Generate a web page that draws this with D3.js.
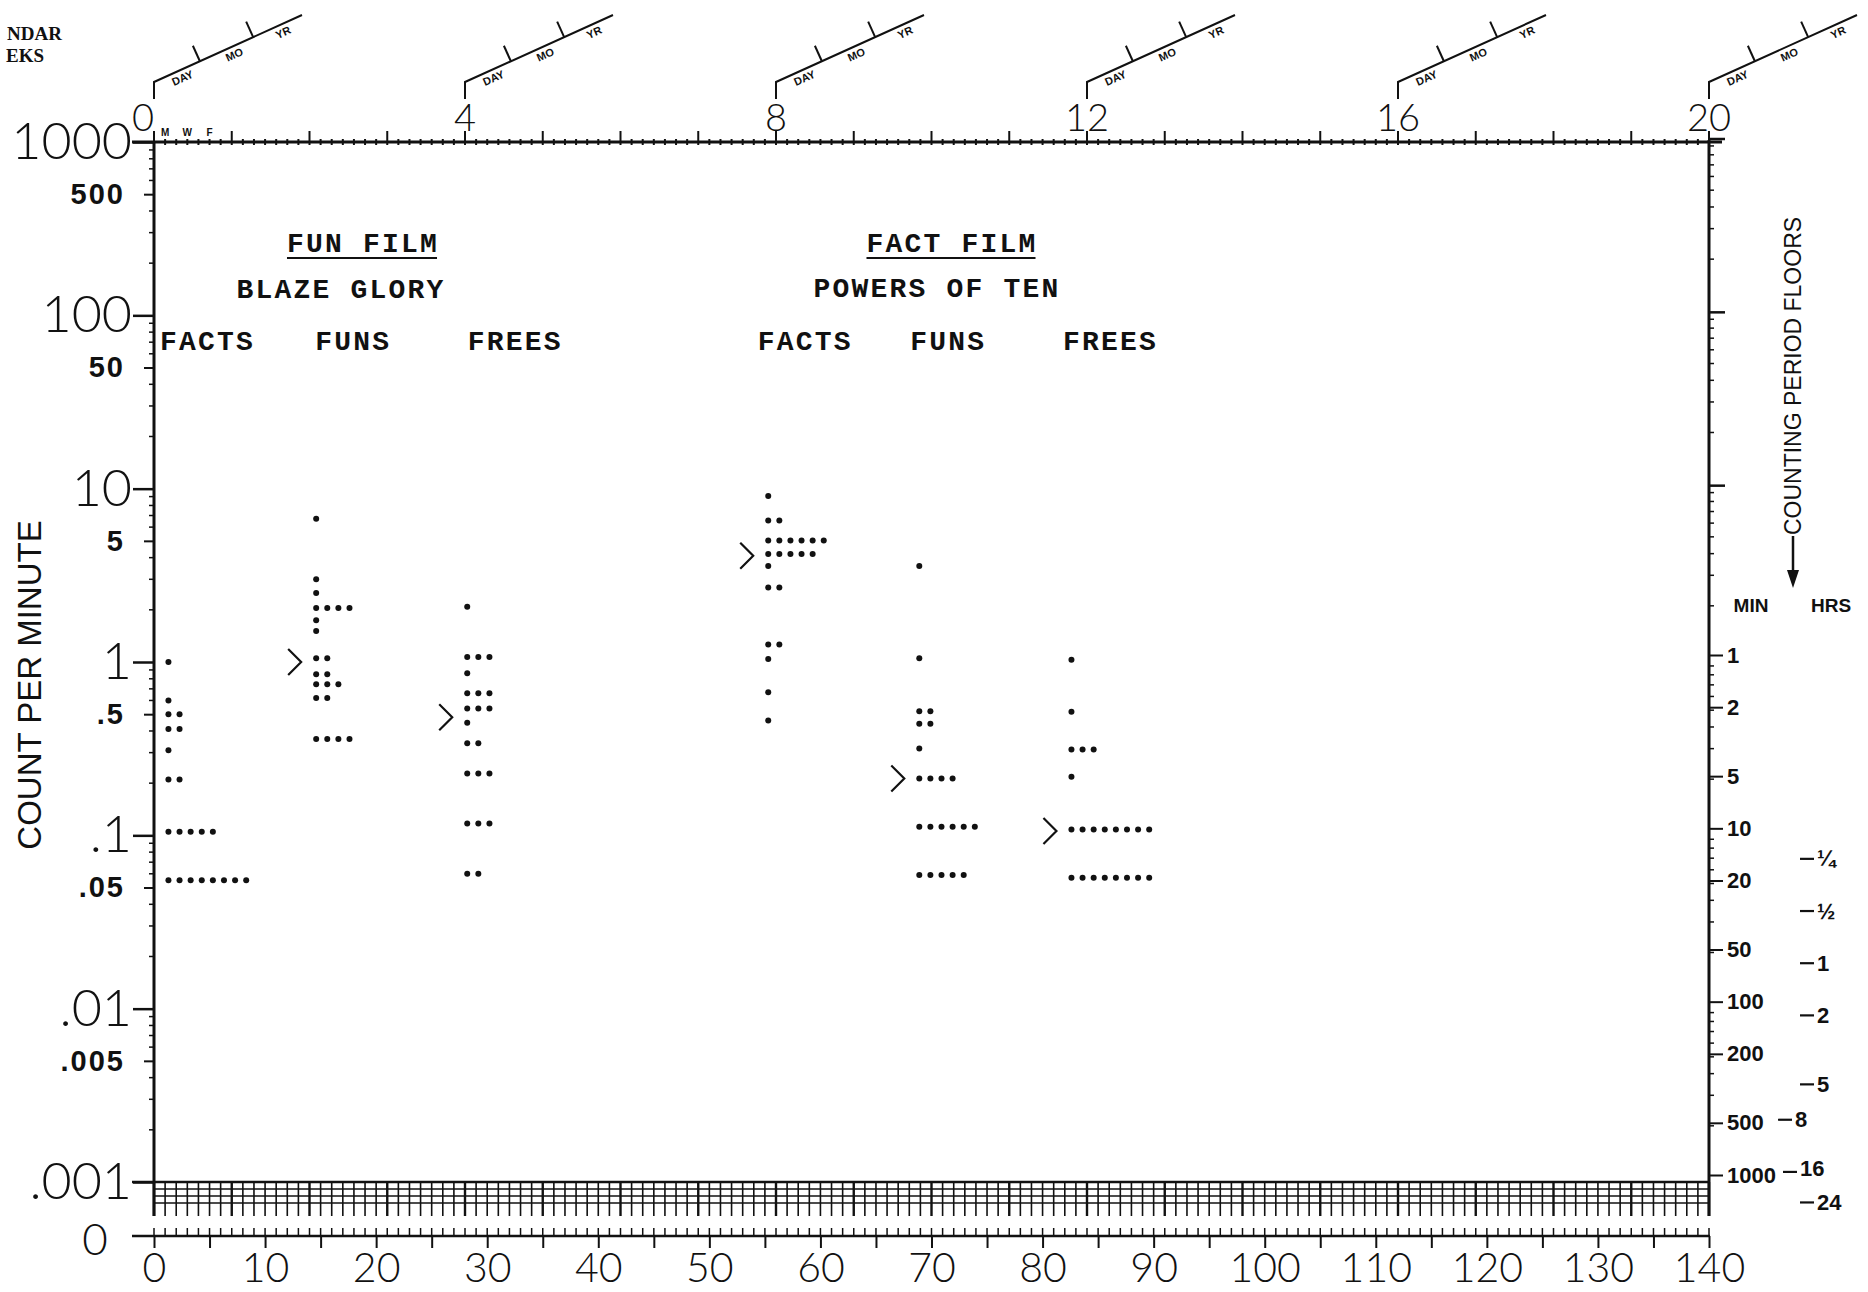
<!DOCTYPE html>
<html><head><meta charset="utf-8">
<script src="https://cdn.jsdelivr.net/npm/d3@7"></script>
<style>
html,body{margin:0;padding:0;background:#fff;}
svg{display:block;}
</style></head><body>
<svg id="chart" width="1868" height="1292"></svg>
<script>
// ---------------- DATA ----------------
const weekTicks = [0, 4, 8, 12, 16, 20];
const dayTicks = [0, 10, 20, 30, 40, 50, 60, 70, 80, 90, 100, 110, 120, 130, 140];
const countMajor = [1000, 100, 10, 1, 0.1, 0.01, 0.001];
const countHalf = [500, 50, 5, 0.5, 0.05, 0.005];
const floorMinutes = [1, 2, 5, 10, 20, 50, 100, 200, 500, 1000];
const floorHours = [0.25, 0.5, 1, 2, 5, 8, 16, 24];
const floorHourLabels = ["¼", "½", "1", "2", "5", "8", "16", "24"];
const weekdayLetters = ["M", "W", "F"];
const weekdayDays = [1, 3, 5];
const celerationWords = ["DAY", "MO", "YR"];
const cornerLabels = ["NDAR", "EKS"];   // visible part of "CALENDAR WEEKS", cut by the page edge

const filmTitles = ["FUN FILM", "FACT FILM"];
const filmNames = ["BLAZE GLORY", "POWERS OF TEN"];
const groupLabels = ["FACTS", "FUNS", "FREES", "FACTS", "FUNS", "FREES"];
const groupStartDay = [1.3, 14.6, 28.2, 55.3, 68.9, 82.6];
const groupMedian = [null, 1.0, 0.48, 4.1, 0.213, 0.106];

// [count per minute, number of dots at that rate]
const blazeFacts = [[1.0,1],[0.6,1],[0.5,2],[0.41,2],[0.31,1],[0.21,2],[0.105,5],[0.055,8]];
const blazeFuns  = [[6.7,1],[3.0,1],[2.5,1],[2.05,4],[1.74,1],[1.51,1],[1.05,2],[0.85,2],[0.745,3],[0.62,2],[0.36,4]];
const blazeFrees = [[2.08,1],[1.07,3],[0.86,1],[0.66,3],[0.54,3],[0.446,1],[0.34,2],[0.227,3],[0.117,3],[0.06,2]];
const powersFacts = [[9.06,1],[6.56,2],[5.03,6],[4.2,5],[3.58,1],[2.69,2],[1.26,2],[1.04,1],[0.67,1],[0.46,1]];
const powersFuns  = [[3.58,1],[1.05,1],[0.52,2],[0.44,2],[0.317,1],[0.213,4],[0.112,6],[0.059,5]];
const powersFrees = [[1.03,1],[0.516,1],[0.313,3],[0.218,1],[0.108,8],[0.057,8]];
const groupRows = [blazeFacts, blazeFuns, blazeFrees, powersFacts, powersFuns, powersFrees];

// ---------------- CHART ----------------
const ink = "#111";
const svg = d3.select("#chart");
svg.append("rect").attr("width",1868).attr("height",1292).attr("fill","#fff");

const x = d3.scaleLinear().domain([0, 140]).range([154, 1709]);
const y = d3.scaleLog().domain([0.001, 1000]).range([1182, 142]);
const thin = "Lato";
const fmt = v => v >= 1 ? String(v) : String(v).replace(/^0\./, ".");

const X0 = x(0), X1 = x(140), YTOP = y(1000), YBOT = y(0.001);
const gridBottom = YBOT + 34, zeroY = YBOT + 54;

// frame lines
svg.append("line").attr("x1",X0).attr("x2",X0).attr("y1",YTOP).attr("y2",gridBottom).attr("stroke",ink).attr("stroke-width",3);
svg.append("line").attr("x1",X1).attr("x2",X1).attr("y1",YTOP-2).attr("y2",gridBottom).attr("stroke",ink).attr("stroke-width",3);
svg.append("line").attr("x1",X0-22).attr("x2",X1+13).attr("y1",YTOP).attr("y2",YTOP).attr("stroke",ink).attr("stroke-width",3);
svg.append("line").attr("x1",X0-22).attr("x2",X1).attr("y1",YBOT).attr("y2",YBOT).attr("stroke",ink).attr("stroke-width",2.5);

// left axis majors
const gL = svg.append("g").attr("transform",`translate(${X0},0)`)
  .call(d3.axisLeft(y).tickValues(countMajor).tickSize(21).tickPadding(1).tickFormat(fmt));
gL.select(".domain").remove();
gL.selectAll("line").attr("stroke",ink).attr("stroke-width",2.5);
gL.selectAll("text").attr("font-family",thin).attr("font-weight",300).attr("font-size",52).attr("fill",ink);

// left axis halves
const gL5 = svg.append("g").attr("transform",`translate(${X0},0)`)
  .call(d3.axisLeft(y).tickValues(countHalf).tickSize(10).tickPadding(19).tickFormat(fmt));
gL5.select(".domain").remove();
gL5.selectAll("line").attr("stroke",ink).attr("stroke-width",2);
gL5.selectAll("text").attr("font-family","Liberation Sans").attr("font-weight",700).attr("font-size",29)
  .attr("letter-spacing",2).attr("fill",ink);

// minor ticks both sides
const minors = [];
for (let d = -3; d <= 2; d++) for (let m = 2; m <= 9; m++) if (m !== 5) minors.push(m * Math.pow(10, d));
svg.append("g").selectAll("line").data(minors).join("line")
  .attr("x1",X0-5).attr("x2",X0).attr("y1",d=>y(d)).attr("y2",d=>y(d)).attr("stroke",ink).attr("stroke-width",1.5);
svg.append("g").selectAll("line").data(minors.concat(countHalf)).join("line")
  .attr("x1",X1).attr("x2",X1+5).attr("y1",d=>y(d)-4).attr("y2",d=>y(d)-4).attr("stroke",ink).attr("stroke-width",1.5);
// right axis major ticks (upper part)
svg.append("g").selectAll("line").data([1000,100,10]).join("line")
  .attr("x1",X1).attr("x2",X1+16).attr("y1",d=>y(d)-3).attr("y2",d=>y(d)-3).attr("stroke",ink).attr("stroke-width",2.5);

// "0" label on left for zero line
svg.append("text").attr("x",95).attr("y",zeroY+8).attr("text-anchor","middle").attr("dominant-baseline","middle")
  .attr("font-family",thin).attr("font-weight",300).attr("font-size",44).attr("fill",ink).text("0");

// Count per minute title
svg.append("text").attr("transform","translate(41,685) rotate(-90)").attr("text-anchor","middle")
  .attr("font-family","Liberation Sans").attr("font-size",33).attr("fill",ink).text("COUNT PER MINUTE");

// bottom grid
const days = d3.range(0, 141);
svg.append("g").selectAll("line").data(days).join("line")
  .attr("x1",d=>x(d)).attr("x2",d=>x(d)).attr("y1",YBOT).attr("y2",gridBottom)
  .attr("stroke",ink).attr("stroke-width",d=>d%7===0?2.4:1.6);
[7,14,21].forEach(o => svg.append("line").attr("x1",X0).attr("x2",X1).attr("y1",YBOT+o).attr("y2",YBOT+o)
  .attr("stroke",ink).attr("stroke-width",1.4));

// zero line with day ticks
svg.append("line").attr("x1",X0-22).attr("x2",X1+1).attr("y1",zeroY).attr("y2",zeroY).attr("stroke",ink).attr("stroke-width",2.5);
svg.append("g").selectAll("line").data(days).join("line")
  .attr("x1",d=>x(d)).attr("x2",d=>x(d)).attr("y1",zeroY-8).attr("y2",zeroY)
  .attr("stroke",ink).attr("stroke-width",1.5);
const gB = svg.append("g").attr("transform",`translate(0,${zeroY})`)
  .call(d3.axisBottom(x).tickValues(d3.range(0,141,5)).tickSize(12).tickPadding(5).tickFormat(d => dayTicks.includes(d) ? d : ""));
gB.select(".domain").remove();
gB.selectAll("line").attr("stroke",ink).attr("stroke-width",2);
gB.selectAll("text").attr("font-family",thin).attr("font-weight",300).attr("font-size",41).attr("fill",ink);

// top calendar ticks
svg.append("g").selectAll("line").data(days).join("line")
  .attr("x1",d=>x(d)).attr("x2",d=>x(d))
  .attr("y1",d=>d%7===0?YTOP-11:YTOP-3).attr("y2",YTOP+3)
  .attr("stroke",ink).attr("stroke-width",2);
svg.append("g").selectAll("text").data(weekdayDays).join("text")
  .attr("x",d=>x(d)).attr("y",YTOP-6).attr("text-anchor","middle")
  .attr("font-family","Liberation Sans").attr("font-weight",700).attr("font-size",10).attr("fill",ink)
  .text((d,i)=>weekdayLetters[i]);

// week labels and celeration glyphs
const ang = Math.atan2(-67, 148) * 180 / Math.PI;
weekTicks.forEach((w, i) => {
  const x0 = x(w * 7);
  svg.append("text").attr("x", x0 + (i === 0 ? -11 : 0)).attr("y", 131).attr("text-anchor","middle")
    .attr("font-family",thin).attr("font-weight",300).attr("font-size",38).attr("fill",ink).text(w);
  const g = svg.append("g");
  g.append("path").attr("d",`M${x0},99 L${x0},82 L${x0+148},15`).attr("fill","none").attr("stroke",ink).attr("stroke-width",2);
  [0.31, 0.67].forEach(t => {
    const px = x0 + 148*t, py = 82 - 67*t;
    g.append("line").attr("x1",px).attr("y1",py).attr("x2",px-7).attr("y2",py-15.5).attr("stroke",ink).attr("stroke-width",2);
  });
  [0.17, 0.52, 0.85].forEach((t, k) => {
    const px = x0 + 148*t, py = 82 - 67*t;
    g.append("text").attr("transform",`translate(${px},${py}) rotate(${ang})`).attr("x",0).attr("y",12)
      .attr("text-anchor","middle").attr("font-family","Liberation Sans").attr("font-weight",700)
      .attr("font-size",11).attr("fill",ink).text(celerationWords[k]);
  });
});

// corner label (visible part of the cut-off "CALENDAR WEEKS")
svg.append("text").attr("x",62).attr("y",40).attr("text-anchor","end").attr("font-family","Liberation Serif")
  .attr("font-weight",700).attr("font-size",19).attr("fill",ink).text(cornerLabels[0]);
svg.append("text").attr("x",44).attr("y",62).attr("text-anchor","end").attr("font-family","Liberation Serif")
  .attr("font-weight",700).attr("font-size",19).attr("fill",ink).text(cornerLabels[1]);

// right axis: counting period floors
const yOff = -7;
const gR = svg.append("g").attr("transform",`translate(${X1},${yOff})`)
  .call(d3.axisRight(y).tickValues(floorMinutes.map(m => 1/m)).tickSize(14).tickPadding(4).tickFormat((d,i)=>floorMinutes[i]));
gR.select(".domain").remove();
gR.selectAll("line").attr("stroke",ink).attr("stroke-width",2);
gR.selectAll("text").attr("font-family","Liberation Sans").attr("font-weight",700).attr("font-size",22).attr("fill",ink);

const gH = svg.append("g");
floorHours.forEach((h, i) => {
  const yy = y(1/(h*60)) + yOff;
  const dx = h === 16 ? -17 : (h === 8 ? -22 : 0);
  const dy = h === 16 ? -3 : 0;
  gH.append("line").attr("x1",1800+dx).attr("x2",1814+dx).attr("y1",yy).attr("y2",yy).attr("stroke",ink).attr("stroke-width",2.2);
  gH.append("text").attr("x",1817+dx).attr("y",yy+dy).attr("dominant-baseline","central")
    .attr("font-family","Liberation Sans").attr("font-weight",700).attr("font-size",22).attr("fill",ink).text(floorHourLabels[i]);
});
svg.append("text").attr("x",1751).attr("y",612).attr("text-anchor","middle").attr("font-family","Liberation Sans")
  .attr("font-weight",700).attr("font-size",19).attr("fill",ink).text("MIN");
svg.append("text").attr("x",1831).attr("y",612).attr("text-anchor","middle").attr("font-family","Liberation Sans")
  .attr("font-weight",700).attr("font-size",19).attr("fill",ink).text("HRS");
svg.append("text").attr("transform","translate(1801,376) rotate(-90)").attr("text-anchor","middle")
  .attr("font-family","Liberation Sans").attr("font-size",23).attr("fill",ink).text("COUNTING PERIOD FLOORS");
svg.append("line").attr("x1",1793).attr("x2",1793).attr("y1",536).attr("y2",575).attr("stroke",ink).attr("stroke-width",2.5);
svg.append("path").attr("d","M1787,570 L1799,570 L1793,588 Z").attr("fill",ink);

// headings
const mono = "Liberation Mono";
function heading(txt, cx, by, underline) {
  const t = svg.append("text").attr("x",cx).attr("y",by).attr("text-anchor","middle")
    .attr("font-family",mono).attr("font-weight",700).attr("font-size",28).attr("letter-spacing",2.2)
    .attr("fill",ink).text(txt);
  if (underline) {
    const bb = t.node().getBBox();
    svg.append("line").attr("x1",bb.x).attr("x2",bb.x+bb.width-2).attr("y1",by+6).attr("y2",by+6).attr("stroke",ink).attr("stroke-width",2);
  }
}
heading(filmTitles[0], 363, 252, true);
heading(filmNames[0], 341, 298, false);
heading(filmTitles[1], 952, 252, true);
heading(filmNames[1], 937, 297, false);
const labelShift = [2, 0, 11, 0, -8, 2];
groupLabels.forEach((g, i) => heading(g, x(groupStartDay[i]) + 37 + labelShift[i], 350, false));

// dots
groupRows.forEach((rows, gi) => {
  const pts = [];
  rows.forEach(([v, n]) => { for (let k = 0; k < n; k++) pts.push({day: groupStartDay[gi] + k, v}); });
  svg.append("g").selectAll("circle").data(pts).join("circle")
    .attr("cx", d => x(d.day)).attr("cy", d => y(d.v)).attr("r", 3).attr("fill", ink);
  // median marker
  if (groupMedian[gi] != null) {
    const tx = x(groupStartDay[gi]) - 15, ty = y(groupMedian[gi]);
    svg.append("path").attr("d",`M${tx-13},${ty-13} L${tx},${ty} L${tx-13},${ty+13}`)
      .attr("fill","none").attr("stroke",ink).attr("stroke-width",2.2);
  }
});
</script>
</body></html>
